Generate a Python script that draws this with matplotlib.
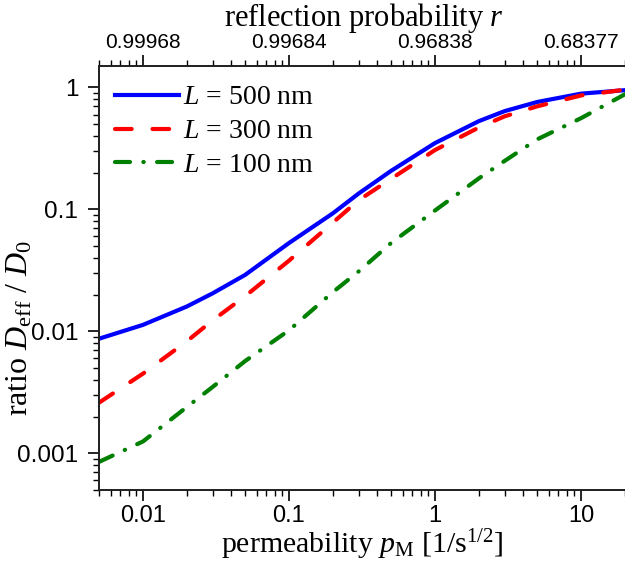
import matplotlib
matplotlib.use("Agg")
import matplotlib.pyplot as plt

plt.rcParams["font.family"] = "Liberation Serif"
plt.rcParams["mathtext.fontset"] = "custom"
plt.rcParams["mathtext.rm"] = "Liberation Serif"
plt.rcParams["mathtext.it"] = "Liberation Serif:italic"

# permeability p_M [1/s^1/2]
p_m = [0.005, 0.01, 0.02, 0.03, 0.05, 0.1, 0.2, 0.3, 0.5, 1, 2, 3, 5, 10, 20]
ratio_500 = [0.0087, 0.0113, 0.016, 0.0205, 0.029, 0.053, 0.093, 0.135, 0.207,
             0.35, 0.53, 0.64, 0.76, 0.89, 0.95]
ratio_300 = [0.0026, 0.0045, 0.0083, 0.0123, 0.0194, 0.038, 0.078, 0.119, 0.178,
             0.307, 0.47, 0.58, 0.70, 0.86, 0.96]
ratio_100 = [0.00085, 0.00125, 0.0024, 0.0035, 0.0057, 0.0102, 0.021, 0.031, 0.053,
             0.098, 0.18, 0.25, 0.375, 0.56, 0.88]

top_ticks = [0.01, 0.1, 1, 10]
top_labels = ["0.99968", "0.99684", "0.96838", "0.68377"]
bottom_labels = ["0.01", "0.1", "1", "10"]
y_ticks = [0.001, 0.01, 0.1, 1]
y_labels = ["0.001", "0.01", "0.1", "1"]

W, H = 625, 561
fig = plt.figure(figsize=(W / 100, H / 100), dpi=100)
ax = fig.add_axes([99 / W, 1 - 490 / H, 526 / W, 424 / H])

ax.plot(p_m, ratio_500, color="#0000ff", lw=3.0, label=r"$L$ = 500 nm")
ax.plot(p_m, ratio_300, color="#ff0000", lw=3.0, dashes=(4.0, 5.0),
        dash_capstyle="round", label=r"$L$ = 300 nm")
ax.plot(p_m, ratio_100, color="#008000", lw=3.0, dashes=(3.6, 3.2, 0.1, 3.2),
        dash_capstyle="round", label=r"$L$ = 100 nm")

ax.set_xscale("log")
ax.set_yscale("log")
ax.set_xlim(0.005, 20)
ax.set_ylim(0.0005, 1.5)

ax.set_xticks(top_ticks)
ax.set_xticklabels(bottom_labels, family="Liberation Sans", fontsize=17)
ax.set_yticks(y_ticks)
ax.set_yticklabels(y_labels, family="Liberation Sans", fontsize=17.5)
ax.tick_params(axis="x", which="major", direction="out", length=8, width=1.2, pad=3)
ax.tick_params(axis="y", which="major", direction="out", length=8, width=1.2, pad=7)
ax.tick_params(which="minor", direction="out", length=4.5, width=1.0)

ax.set_xlabel(r"permeability $p_{\rm M}$ [1/s$^{1/2}$]", fontsize=21.5, labelpad=0)
ax.set_ylabel(r"ratio $D_{\rm eff}$ / $D_0$", fontsize=23)
ax.yaxis.set_label_coords((34 - 99) / 526, (490 - 328) / 424)

top = ax.twiny()
top.set_xscale("log")
top.set_xlim(ax.get_xlim())
top.set_xticks(top_ticks)
top.set_xticklabels(top_labels, family="Liberation Sans", fontsize=15)
top.tick_params(which="major", direction="out", length=8, width=1.2, pad=2)
top.tick_params(which="minor", direction="out", length=4.5, width=1.0)
top.set_xlabel(r"reflection probability $r$", fontsize=22)
top.xaxis.set_label_coords((364 - 99) / 526, 1 + (66 - 26) / 424)

for a in (ax, top):
    a.spines["right"].set_visible(False)
    for s in a.spines.values():
        s.set_linewidth(1.3)
        s.set_color("#222222")

ax.legend(loc="upper left", frameon=False, fontsize=20, handlelength=2.3,
          handletextpad=0.15, labelspacing=0.3, borderpad=0, borderaxespad=0,
          bbox_to_anchor=(115 / W, 1 - 85 / H), bbox_transform=fig.transFigure)

fig.savefig("out.png", dpi=100)
